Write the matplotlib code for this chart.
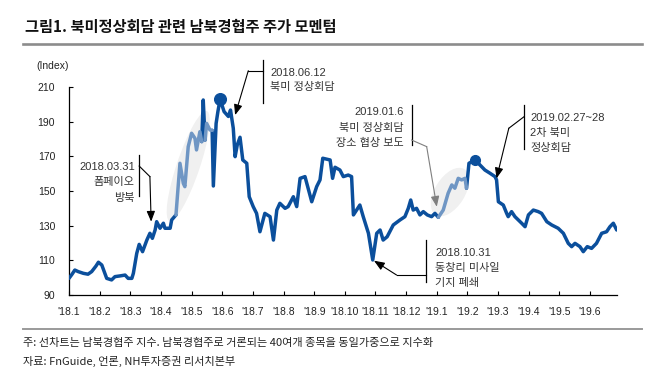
import matplotlib
matplotlib.use('Agg')
import matplotlib.pyplot as plt
from matplotlib.patches import Ellipse
from matplotlib.lines import Line2D
from matplotlib.transforms import IdentityTransform
import numpy as np

plt.rcParams['font.family'] = ['Liberation Sans', 'Noto Sans CJK KR', 'DejaVu Sans']
KFONT = ['Liberation Sans', 'Noto Sans CJK KR']

# ---------------- data (x = months since 2018-01-01) ----------------
months = [0.00, 0.10, 0.19, 0.30, 0.47, 0.62, 0.74, 0.88, 0.96, 1.07, 1.23, 1.39, 1.50,
          1.66, 1.83, 1.93, 2.05, 2.10, 2.21, 2.29, 2.40, 2.54, 2.64, 2.72, 2.81, 2.86,
          2.97, 3.08, 3.13, 3.30, 3.35, 3.49, 3.62, 3.73, 3.78, 3.89, 4.00, 4.11, 4.16,
          4.27, 4.33, 4.38, 4.44, 4.49, 4.60, 4.67, 4.71, 4.80, 4.86, 4.93, 5.06, 5.20,
          5.27, 5.36, 5.42, 5.49, 5.58, 5.67, 5.80, 5.88, 6.01, 6.12, 6.23, 6.39, 6.56,
          6.67, 6.78, 6.88, 7.05, 7.15, 7.32, 7.43, 7.54, 7.70, 7.92, 8.08, 8.19, 8.28,
          8.52, 8.60, 8.68, 8.84, 8.95, 9.11, 9.22, 9.28, 9.49, 9.60, 9.77, 9.91, 10.04,
          10.15, 10.25, 10.38, 10.58, 10.80, 10.96, 11.07, 11.15, 11.23, 11.34, 11.45,
          11.56, 11.69, 11.83, 11.94, 12.05, 12.21, 12.37, 12.49, 12.59, 12.70, 12.81,
          12.92, 12.97, 13.05, 13.25, 13.41, 13.57, 13.74, 13.90, 13.95, 14.01, 14.17,
          14.28, 14.33, 14.44, 14.55, 14.66, 14.77, 14.88, 14.99, 15.15, 15.31, 15.42,
          15.59, 15.75, 15.96, 16.13, 16.29, 16.40, 16.51, 16.67, 16.78, 16.91, 17.05,
          17.21, 17.38, 17.54, 17.65, 17.76, 17.87]
index_vals = [99.6, 102.0, 104.4, 103.5, 102.5, 102.0, 103.5, 106.7, 108.9, 107.3, 99.6, 98.7, 100.6,
              101.0, 101.5, 99.6, 99.6, 102.5, 114.0, 119.2, 115.0, 121.7, 125.6, 122.7, 127.5, 132.3,
              128.5, 131.4, 128.5, 128.5, 133.3, 136.2, 166.0, 154.4, 152.5, 175.6, 183.3, 180.4, 173.7,
              184.2, 178.5, 202.5, 179.4, 189.0, 185.2, 185.0, 152.9, 189.0, 196.0, 202.9, 195.8, 193.0,
              196.7, 186.2, 169.8, 176.6, 181.0, 167.9, 166.0, 146.7, 141.0, 137.1, 126.5, 137.1, 135.2,
              121.7, 139.0, 142.9, 140.0, 141.0, 146.7, 141.0, 157.3, 158.3, 143.8, 152.5, 156.4, 168.9,
              167.9, 157.3, 163.7, 162.1, 158.3, 159.2, 158.3, 136.2, 141.9, 135.2, 125.6, 110.2, 125.6,
              127.5, 121.7, 123.6, 130.4, 133.3, 135.2, 140.0, 144.8, 139.0, 140.0, 136.2,
              138.1, 136.2, 135.2, 137.1, 134.8, 139.0, 148.7, 153.5, 151.6, 157.3, 156.4,
              157.3, 151.6, 166.0, 167.9, 165.0, 162.1, 160.2, 158.3, 156.4, 143.8, 141.9,
              137.1, 135.2, 138.1, 135.2, 133.3, 131.4, 129.4, 136.2, 139.0, 138.1, 137.1,
              132.3, 130.4, 128.5, 125.6, 119.8, 117.9, 119.8, 117.9, 115.0, 117.9, 116.9,
              119.8, 125.6, 126.5, 129.4, 131.4, 127.5]
highlight_ranges = [(3.49, 4.33), (4.44, 4.67), (12.05, 12.97)]
tick_labels = ["'18.1", "'18.2", "'18.3", "'18.4", "'18.5", "'18.6", "'18.7", "'18.8", "'18.9",
               "'18.10", "'18.11", "'18.12", "'19.1", "'19.2", "'19.3", "'19.4", "'19.5", "'19.6"]
y_ticks = [90, 110, 130, 150, 170, 190, 210]

DARK = '#0b4f9c'
LIGHT = '#6f96c4'
TXT = '#333333'

fig = plt.figure(figsize=(6.62, 3.77), dpi=100)
ax = fig.add_axes([69 / 662, 82 / 377, 548 / 662, 208 / 377])
ax.set_xlim(0, 17.88)
ax.set_ylim(90, 210)

x = np.array(months)
y = np.array(index_vals)


def is_light(i):
    for lo, hi in highlight_ranges:
        if x[i] >= lo - 1e-9 and x[i + 1] <= hi + 1e-9:
            return True
    return False


# split into runs of same colour
runs = []
cur = [0]
cur_light = is_light(0)
for i in range(len(x) - 1):
    lt = is_light(i)
    if lt != cur_light:
        runs.append((cur_light, cur))
        cur = [i]
        cur_light = lt
    cur.append(i + 1)
runs.append((cur_light, cur))

for lt, idx in runs:
    if not lt:
        ax.plot(x[idx], y[idx], color=DARK, lw=2.5, solid_joinstyle='round',
                solid_capstyle='round', zorder=3)
for lt, idx in runs:
    if lt:
        ax.plot(x[idx], y[idx], color=LIGHT, lw=2.5, solid_joinstyle='round',
                solid_capstyle='round', zorder=3)

# peak markers
m1 = int(np.argmax(np.where(x < 6, y, -1)))
m2 = int(np.argmax(np.where((x > 12.5) & (x < 14), y, -1)))
ax.plot(x[m1], y[m1], 'o', color=DARK, ms=8.4, zorder=4)
ax.plot(x[m2], y[m2], 'o', color=DARK, ms=7.0, zorder=4)

# highlight ellipses (drawn in pixel space)
for (cx, cy), major, minor, ang in [((3.89, 164.4), 116, 23, 71.3),
                                    ((12.43, 149.4), 54, 30, 58)]:
    c = ax.transData.transform((cx, cy))
    e = Ellipse(c, major, minor, angle=ang, transform=IdentityTransform(),
                facecolor='#f0f0f0', edgecolor='none', zorder=1)
    ax.add_artist(e)

# axes styling
for s in ['top', 'right']:
    ax.spines[s].set_visible(False)
for s in ['left', 'bottom']:
    ax.spines[s].set_linewidth(0.9)
    ax.spines[s].set_color('black')
ax.set_xticks(range(len(tick_labels)))
ax.set_xticklabels(tick_labels)
ax.set_yticks(y_ticks)
ax.tick_params(axis='x', direction='in', length=3, width=0.8, pad=8.5, labelsize=7.5,
               labelcolor='#222222')
ax.tick_params(axis='y', direction='in', length=3, width=0.8, pad=10, labelsize=7.5,
               labelcolor='#222222')
ax.text(0, 1 + 21.3 / 208, '(Index)', transform=ax.transAxes, ha='right', va='center',
        fontsize=7.5, color='#222222')


# annotations
def vbar(xv, y0, y1):
    ax.plot([xv, xv], [y0, y1], color='black', lw=0.9, clip_on=False, zorder=5)


def connector(pts, tip, color='black'):
    xs = [p[0] for p in pts]
    ys = [p[1] for p in pts]
    ax.plot(xs, ys, color=color, lw=0.8, clip_on=False, zorder=5)
    ax.annotate('', xy=tip, xytext=pts[-1], annotation_clip=False,
                arrowprops=dict(arrowstyle='-|>,head_length=0.45,head_width=0.18',
                                mutation_scale=14, color=color, lw=0.8,
                                shrinkA=0, shrinkB=0), zorder=5)


def lines_text(xv, ys, texts, ha):
    for yy, t in zip(ys, texts):
        ax.text(xv, yy, t, ha=ha, va='center', fontsize=8, color=TXT, family=KFONT,
                zorder=6)


# 2018.03.31
lines_text(2.15, [163.6, 155.0, 145.7], ['2018.03.31', '폼페이오', '방북'], 'right')
vbar(2.29, 170.8, 147.3)
connector([(2.29, 164.4), (2.64, 158.3)], (2.68, 132.3))

# 2018.06.12
lines_text(6.56, [218.3, 210.2], ['2018.06.12', '북미 정상회담'], 'left')
vbar(6.34, 225.6, 200.6)
connector([(6.34, 219.4), (5.85, 219.4)], (5.42, 193.8))

# 2019.01.6
lines_text(10.91, [195.8, 186.2, 177.5], ['2019.01.6', '북미 정상회담', '장소 협상 보도'], 'right')
vbar(11.18, 199.6, 176.5)
connector([(11.18, 179.4), (11.67, 175.6)], (12.00, 140.9), color='#7f7f7f')

# 2019.02.27~28
lines_text(15.04, [191.9, 183.3, 174.6], ['2019.02.27~28', '2차 북미', '정상회담'], 'left')
vbar(14.85, 199.6, 174.1)
connector([(14.85, 192.9), (14.35, 186.2)], (13.95, 157.3))

# 2018.10.31
lines_text(11.94, [114.4, 105.4, 96.75], ['2018.10.31', '동창리 미사일', '기지 폐쇄'], 'left')
vbar(11.65, 121.7, 97.5)
connector([(11.65, 101.5), (10.69, 101.5)], (9.95, 109.8))

# title, rules, footnotes
fig.text(25 / 662, 1 - 27 / 377, '그림1. 북미정상회담 관련 남북경협주 주가 모멘텀',
         fontsize=11, fontweight='bold', family=['Noto Sans CJK KR'], va='center',
         color='#111111')
fig.add_artist(Line2D([23 / 662, 642 / 662], [1 - 44 / 377, 1 - 44 / 377],
                      color='#8c8c8c', lw=1.9, transform=fig.transFigure))
fig.add_artist(Line2D([23 / 662, 642 / 662], [1 - 329 / 377, 1 - 329 / 377],
                      color='#9a9a9a', lw=1.4, transform=fig.transFigure))
fig.text(23 / 662, 1 - 343 / 377,
         '주: 선차트는 남북경협주 지수. 남북경협주로 거론되는 40여개 종목을 동일가중으로 지수화',
         fontsize=8, family=['Noto Sans CJK KR'], va='center', color='#222222')
fig.text(23 / 662, 1 - 361.5 / 377, '자료: FnGuide, 언론, NH투자증권 리서치본부',
         fontsize=8, family=['Noto Sans CJK KR'], va='center', color='#222222')

fig.savefig('out.png', dpi=100)
